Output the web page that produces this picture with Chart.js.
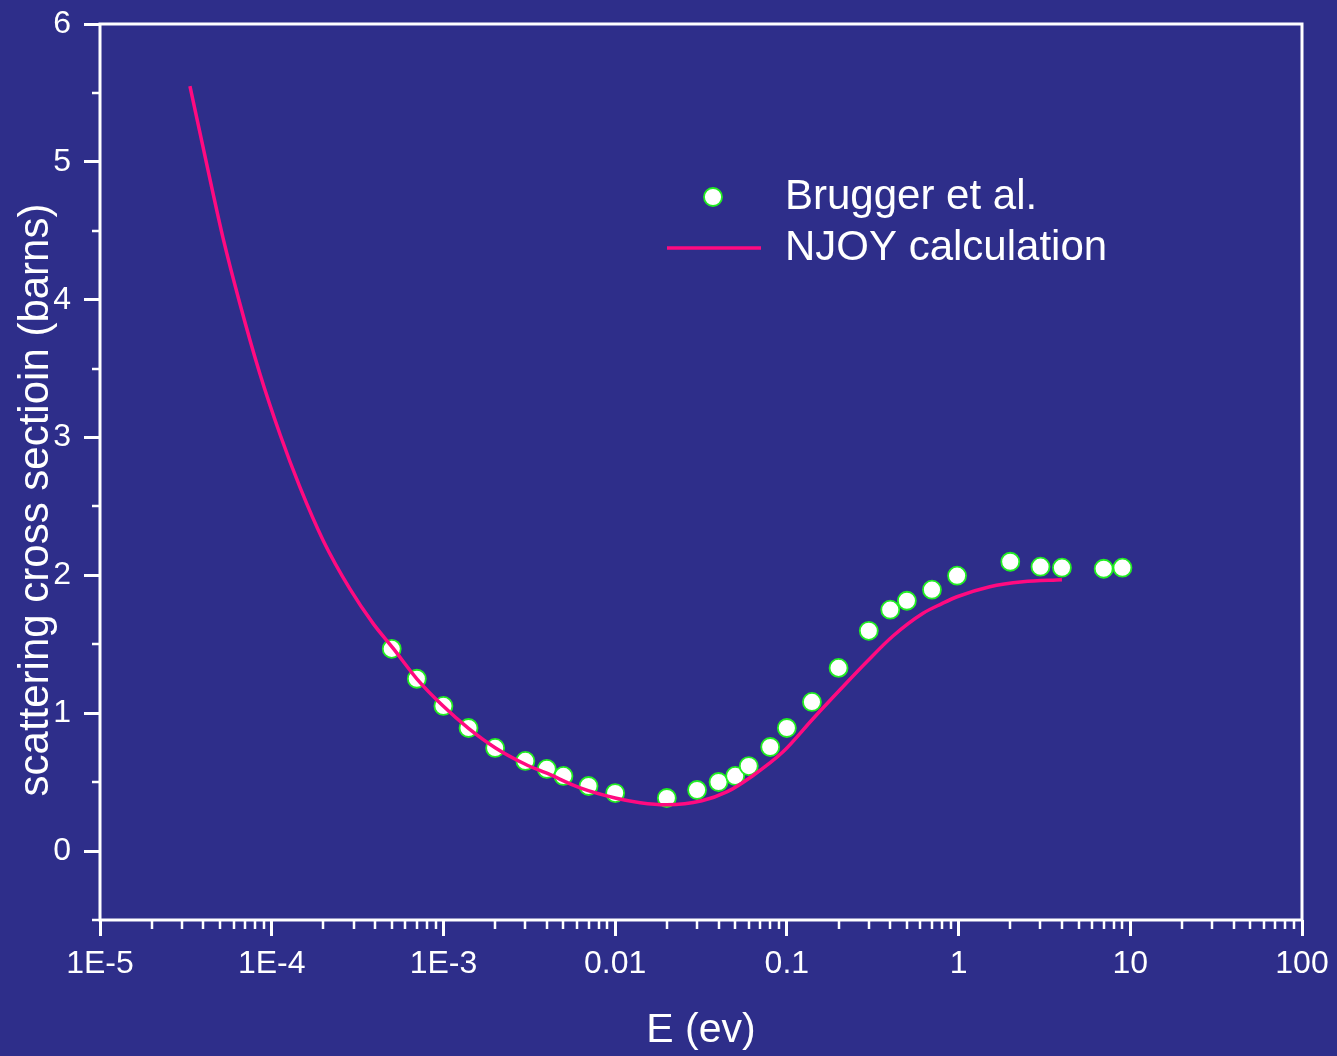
<!DOCTYPE html>
<html>
<head>
<meta charset="utf-8">
<script src="https://cdn.jsdelivr.net/npm/chart.js@4.4.1/dist/chart.umd.min.js"></script>
<style>
  html, body { margin: 0; padding: 0; background: #2e2e8a; }
  canvas { display: block; }
</style>
</head>
<body>
<canvas id="xsChart" width="1337" height="1056"></canvas>
<script>
// measured points (Brugger et al.)
const bruggerE = [5e-4, 7e-4, 1e-3, 1.4e-3, 2e-3, 3e-3, 4e-3, 5e-3, 7e-3, 0.01,
  0.02, 0.03, 0.04, 0.05, 0.06, 0.08, 0.1, 0.14, 0.2, 0.3,
  0.4, 0.5, 0.7, 0.98, 2, 3, 4, 7, 9];
const bruggerSigma = [1.467, 1.25, 1.053, 0.893, 0.748, 0.654, 0.596, 0.545, 0.472, 0.421,
  0.385, 0.443, 0.501, 0.545, 0.617, 0.755, 0.893, 1.082, 1.329, 1.598,
  1.751, 1.816, 1.896, 1.998, 2.099, 2.063, 2.056, 2.048, 2.056];

// NJOY calculation curve
const njoyE = [3.34e-5, 4.5e-5, 5.2e-5, 6.5e-5, 8.5e-5, 1.12e-4, 1.46e-4, 2e-4, 2.86e-4, 3.9e-4,
  5.1e-4, 7e-4, 1e-3, 1.4e-3, 2e-3, 3e-3, 4e-3, 6.2e-3, 0.01, 0.014,
  0.02, 0.032, 0.045, 0.063, 0.095, 0.142, 0.204, 0.293, 0.415,
  0.621, 0.8, 0.98, 1.52, 2.37, 4.0];
const njoySigma = [5.55, 4.80, 4.45, 3.98, 3.47, 3.02, 2.64, 2.25, 1.90, 1.65,
  1.47, 1.25, 1.05, 0.89, 0.75, 0.63, 0.565, 0.46, 0.385, 0.351,
  0.336, 0.365, 0.431, 0.545, 0.72, 0.96, 1.17, 1.375, 1.56,
  1.725, 1.795, 1.845, 1.918, 1.954, 1.969];

const xTickValues = [1e-5, 1e-4, 1e-3, 0.01, 0.1, 1, 10, 100];
const xTickLabels = ["1E-5", "1E-4", "1E-3", "0.01", "0.1", "1", "10", "100"];
const yTickValues = [0, 1, 2, 3, 4, 5, 6];
const yMinorValues = [-0.5, 0.5, 1.5, 2.5, 3.5, 4.5, 5.5];

const legendLabels = ["Brugger et al.", "NJOY calculation"];
const yTitle = "scattering cross sectioin (barns)";

const WHITE = "#ffffff";
const FONT = "'Liberation Sans', Arial, sans-serif";

const toXY = (xs, ys) => xs.map((x, i) => ({ x: x, y: ys[i] }));

// frame, minor ticks, y title and legend
const extrasPlugin = {
  id: "extras",
  afterDraw(chart) {
    const ctx = chart.ctx;
    const area = chart.chartArea;
    const xs = chart.scales.x;
    const ys = chart.scales.y;
    ctx.save();
    ctx.strokeStyle = WHITE;

    // minor ticks
    ctx.lineWidth = 2.5;
    ctx.beginPath();
    for (let d = -5; d < 2; d++) {
      for (let m = 2; m < 10; m++) {
        const px = Math.round(xs.getPixelForValue(m * Math.pow(10, d)));
        ctx.moveTo(px, area.bottom);
        ctx.lineTo(px, area.bottom + 9);
      }
    }
    yMinorValues.forEach(v => {
      const py = Math.round(ys.getPixelForValue(v));
      ctx.moveTo(area.left - 8, py);
      ctx.lineTo(area.left, py);
    });
    ctx.stroke();

    // frame
    ctx.lineWidth = 3;
    ctx.strokeRect(area.left, area.top, area.right - area.left, area.bottom - area.top);

    // y axis title (sits a bit below the centre of the axis)
    ctx.save();
    ctx.translate(36, (area.top + area.bottom) / 2 + 28);
    ctx.rotate(-Math.PI / 2);
    ctx.fillStyle = WHITE;
    ctx.font = "42px " + FONT;
    ctx.textAlign = "center";
    ctx.textBaseline = "middle";
    ctx.fillText(yTitle, 0, 0);
    ctx.restore();

    // legend
    const pts = chart.data.datasets[1];
    const line = chart.data.datasets[0];
    const lx = area.left + 613;
    const ly1 = area.top + 173;
    const ly2 = area.top + 224;
    ctx.beginPath();
    ctx.arc(lx, ly1, pts.pointRadius, 0, Math.PI * 2);
    ctx.fillStyle = pts.backgroundColor;
    ctx.fill();
    ctx.lineWidth = pts.borderWidth;
    ctx.strokeStyle = pts.borderColor;
    ctx.stroke();

    ctx.beginPath();
    ctx.moveTo(lx - 46, ly2);
    ctx.lineTo(lx + 48, ly2);
    ctx.lineWidth = line.borderWidth;
    ctx.strokeStyle = line.borderColor;
    ctx.stroke();

    ctx.fillStyle = WHITE;
    ctx.font = "42px " + FONT;
    ctx.textAlign = "left";
    ctx.textBaseline = "middle";
    ctx.fillText(legendLabels[0], lx + 72, ly1);
    ctx.fillText(legendLabels[1], lx + 72, ly2);
    ctx.restore();
  }
};

new Chart(document.getElementById("xsChart"), {
  type: "scatter",
  data: {
    datasets: [
      {
        label: legendLabels[1],
        data: toXY(njoyE, njoySigma),
        showLine: true,
        borderColor: "#ff0a80",
        borderWidth: 3.5,
        pointRadius: 0,
        cubicInterpolationMode: "monotone",
        order: 0,
      },
      {
        label: legendLabels[0],
        data: toXY(bruggerE, bruggerSigma),
        showLine: false,
        backgroundColor: "#ffffff",
        borderColor: "#22ee22",
        borderWidth: 1.8,
        pointRadius: 9,
        order: 1,
      },
    ],
  },
  options: {
    responsive: false,
    animation: false,
    layout: { padding: { left: 0, top: 24, right: 35, bottom: 0 } },
    plugins: {
      legend: { display: false },
      tooltip: { enabled: false },
    },
    scales: {
      x: {
        type: "logarithmic",
        min: 1e-5,
        max: 100,
        afterBuildTicks: (scale) => {
          scale.ticks = xTickValues.map(v => ({ value: v, major: true }));
        },
        afterFit: (scale) => {
          scale.height = 136;
          scale.paddingLeft = 0;
          scale.paddingRight = 0;
        },
        border: { display: false },
        grid: {
          drawOnChartArea: false,
          drawTicks: true,
          tickLength: 16,
          tickColor: WHITE,
          tickWidth: 3,
          color: WHITE,
        },
        ticks: {
          color: WHITE,
          font: { family: FONT, size: 32 },
          padding: 9,
          maxRotation: 0,
          autoSkip: false,
          callback: (value, index) => xTickLabels[index],
        },
        title: {
          display: true,
          text: "E (ev)",
          color: WHITE,
          font: { family: FONT, size: 41 },
          padding: { top: 0, bottom: 1 },
        },
      },
      y: {
        min: -0.5,
        max: 6,
        afterBuildTicks: (scale) => {
          scale.ticks = yTickValues.map(v => ({ value: v }));
        },
        afterFit: (scale) => {
          scale.width = 100;
          scale.paddingTop = 0;
          scale.paddingBottom = 0;
        },
        border: { display: false },
        grid: {
          drawOnChartArea: false,
          drawTicks: true,
          tickLength: 16,
          tickColor: WHITE,
          tickWidth: 3,
          color: WHITE,
        },
        ticks: {
          color: WHITE,
          font: { family: FONT, size: 32 },
          padding: 13,
          callback: (value) => String(value),
        },
      },
    },
  },
  plugins: [extrasPlugin],
});
</script>
</body>
</html>
